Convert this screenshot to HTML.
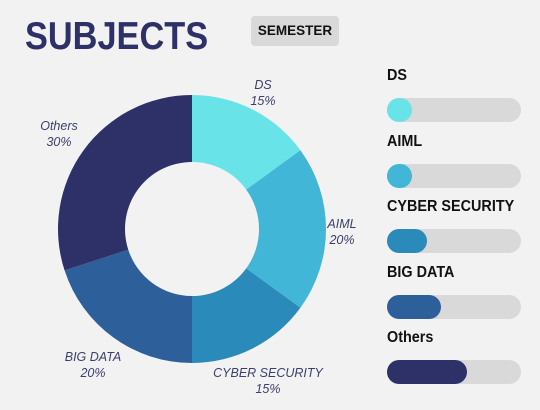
<!DOCTYPE html>
<html><head><meta charset="utf-8"><style>
body{margin:0;width:540px;height:410px;background:#f2f2f2;font-family:"Liberation Sans",sans-serif;overflow:hidden}
#c{position:relative;width:540px;height:410px}
.t{position:absolute;left:25px;top:15px;font-size:39px;font-weight:bold;color:#2e3068;transform:scaleX(0.88);transform-origin:0 0;white-space:nowrap}
.btn{position:absolute;left:251px;top:16px;width:88px;height:30px;background:#d9d9d9;border-radius:4px;font-size:13.5px;font-weight:bold;text-align:center;line-height:29px;color:#111}
.lab{position:absolute;left:387px;font-size:16px;font-weight:900;color:#111;transform:scaleX(0.9);transform-origin:0 0;white-space:nowrap}
.trk{position:absolute;left:387px;width:134px;height:24px;background:#d9d9d9;border-radius:12px}
.fill{height:24px;border-radius:12px}
</style></head><body><div id="c">
<div class="t">SUBJECTS</div>
<div class="btn">SEMESTER</div>
<svg id="pie" width="540" height="410" style="position:absolute;left:0;top:0"></svg>
<div id="bars"></div>
</div>
<script>
const categories=["DS","AIML","CYBER SECURITY","BIG DATA","Others"];
const values=[15,20,15,20,30];
const barValues=[19,19,30,40,60];
const colors=["#68e3e8","#41b6d6","#2a8bbb","#2d5f9a","#2e3068"];
const labelPos=[[263,85],[342,224],[268,373],[93,357],[59,126]];
const NS="http://www.w3.org/2000/svg";
const svg=document.getElementById('pie');
const cx=192,cy=229,R=134,r=67;
const total=values.reduce((a,b)=>a+b,0);
function pt(f,rad){const a=f*2*Math.PI;return [cx+rad*Math.sin(a),cy-rad*Math.cos(a)];}
let acc=0;
values.forEach((v,i)=>{
 const f0=acc/total,f1=(acc+v)/total;acc+=v;
 const large=(f1-f0)>0.5?1:0;
 const [x0,y0]=pt(f0,R),[x1,y1]=pt(f1,R),[x2,y2]=pt(f1,r),[x3,y3]=pt(f0,r);
 const p=document.createElementNS(NS,'path');
 p.setAttribute('d',`M${x0},${y0}A${R},${R} 0 ${large} 1 ${x1},${y1}L${x2},${y2}A${r},${r} 0 ${large} 0 ${x3},${y3}Z`);
 p.setAttribute('fill',colors[i]);
 
 
 svg.appendChild(p);
 const [lx,ly]=labelPos[i];
 [categories[i],Math.round(v/total*100)+'%'].forEach((s,k)=>{
  const t=document.createElementNS(NS,'text');
  t.setAttribute('x',lx);t.setAttribute('y',ly+k*16+4);
  t.setAttribute('text-anchor','middle');t.setAttribute('font-size','12.5');
  t.setAttribute('font-style','italic');t.setAttribute('fill','#3c3f6e');
  t.setAttribute('font-family','Liberation Sans, sans-serif');
  t.textContent=s;
  
  
  svg.appendChild(t);
 });
});
const bars=document.getElementById('bars');
categories.forEach((c,i)=>{
 const y=98+i*65.5;
 const l=document.createElement('div');l.className='lab';l.style.top=(y-31)+'px';l.textContent=c;
 
 
 bars.appendChild(l);
 const t=document.createElement('div');t.className='trk';t.style.top=y+'px';
 
 
 const f=document.createElement('div');f.className='fill';
 f.style.width=Math.max(24,barValues[i]/100*134)+'px';f.style.background=colors[i];
 
 
 t.appendChild(f);bars.appendChild(t);
});
</script></body></html>
